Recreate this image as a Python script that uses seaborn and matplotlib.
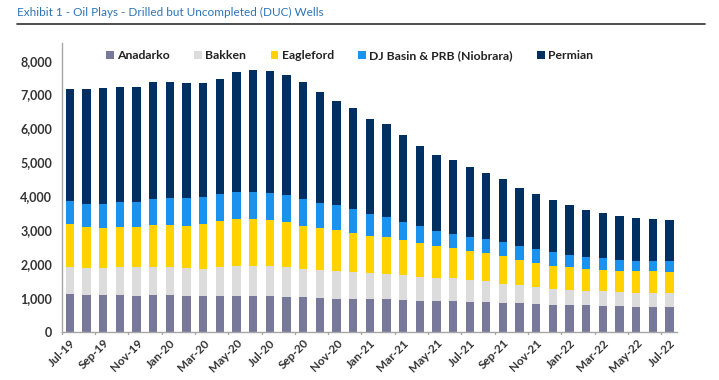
import matplotlib
matplotlib.use("Agg")
import matplotlib.pyplot as plt
from matplotlib.patches import Patch
from matplotlib.lines import Line2D
import seaborn as sns
import numpy as np
import pandas as pd

months = ["Jul-19", "Aug-19", "Sep-19", "Oct-19", "Nov-19", "Dec-19",
          "Jan-20", "Feb-20", "Mar-20", "Apr-20", "May-20", "Jun-20",
          "Jul-20", "Aug-20", "Sep-20", "Oct-20", "Nov-20", "Dec-20",
          "Jan-21", "Feb-21", "Mar-21", "Apr-21", "May-21", "Jun-21",
          "Jul-21", "Aug-21", "Sep-21", "Oct-21", "Nov-21", "Dec-21",
          "Jan-22", "Feb-22", "Mar-22", "Apr-22", "May-22", "Jun-22", "Jul-22"]

anadarko = [1100, 1075, 1075, 1075, 1045, 1075, 1075, 1045, 1045, 1045, 1045, 1045,
            1045, 1015, 1015, 985, 955, 955, 955, 955, 925, 895, 895, 895,
            865, 865, 835, 835, 805, 780, 780, 780, 750, 750, 730, 730, 730]
bakken = [800, 795, 795, 825, 855, 825, 825, 825, 795, 855, 885, 885,
          885, 885, 825, 825, 825, 795, 765, 740, 740, 710, 690, 690,
          660, 630, 570, 540, 525, 490, 460, 430, 460, 430, 420, 420, 420]
eagleford = [1290, 1220, 1190, 1190, 1190, 1250, 1250, 1250, 1340, 1370, 1400, 1400,
             1370, 1340, 1280, 1250, 1230, 1170, 1115, 1110, 1035, 1005, 935, 875,
             855, 825, 830, 750, 710, 680, 660, 650, 620, 600, 630, 630, 600]
dj_prb = [670, 690, 720, 750, 750, 775, 805, 835, 805, 805, 795, 795,
          795, 795, 805, 750, 720, 690, 640, 580, 540, 510, 460, 435,
          425, 405, 405, 395, 395, 405, 365, 345, 345, 345, 315, 315, 345]
permian = [3300, 3375, 3415, 3375, 3375, 3435, 3405, 3375, 3345, 3395, 3525, 3600,
           3605, 3555, 3435, 3270, 3090, 2980, 2805, 2755, 2560, 2360, 2245, 2165,
           2045, 1960, 1880, 1710, 1625, 1535, 1485, 1395, 1320, 1280, 1250, 1220, 1190]

series_names = ["Anadarko", "Bakken", "Eagleford", "DJ Basin & PRB (Niobrara)", "Permian"]
series_values = [anadarko, bakken, eagleford, dj_prb, permian]
colors = ["#77789A", "#DCDCDC", "#FFD200", "#1A92EE", "#002F62"]

sns.set_theme(style="white")
plt.rcParams['font.family'] = ['Lato', 'DejaVu Sans']

fig = plt.figure(figsize=(7.19, 3.80), dpi=100)
ax = fig.add_axes([62 / 719, 1 - 331.7 / 380, (677 - 62) / 719, (331.7 - 43) / 380])

bottom = np.zeros(len(months))
for name, vals, col in zip(series_names, series_values, colors):
    df = pd.DataFrame({"month": months, "value": vals})
    sns.barplot(data=df, x="month", y="value", order=months, color=col,
                bottom=bottom, width=0.5, errorbar=None, ax=ax,
                saturation=1, linewidth=0)
    bottom = bottom + np.array(vals)

ax.set_xlim(-0.48, 36.45)
ax.set_ylim(0, 8520)
ax.set_yticks(range(0, 8001, 1000))
ax.set_yticklabels([f"{v:,}" for v in range(0, 8001, 1000)],
                   fontsize=9, fontweight="bold", color="#333333")
ax.set_xticks(range(0, len(months), 2))
ax.set_xticklabels(months[::2], rotation=45, ha="right", rotation_mode="anchor",
                   fontsize=8.5, fontweight="bold", color="#333333")
ax.set_xlabel("")
ax.set_ylabel("")
for s in ["top", "right"]:
    ax.spines[s].set_visible(False)
for s in ["left", "bottom"]:
    ax.spines[s].set_color("#A6A6A6")
    ax.spines[s].set_linewidth(1)
ax.tick_params(axis="y", length=3, color="#A6A6A6", pad=4)
ax.tick_params(axis="x", length=0, pad=4)
# tick marks between every second category
for xt in np.arange(-0.5, 36.6, 2):
    ax.plot([xt, xt], [0, -70], color="#A6A6A6", lw=1, clip_on=False)

handles = [Patch(facecolor=c, edgecolor="none", label=n) for n, c in zip(series_names, colors)]
leg = ax.legend(handles=handles, loc="center", bbox_to_anchor=(0.468, 0.955), ncol=5,
                frameon=False, handlelength=0.6, handleheight=0.6, handletextpad=0.3,
                columnspacing=2.0, prop={"weight": "bold", "size": 8.8})
for t in leg.get_texts():
    t.set_color("#222222")

fig.text(17 / 719, 1 - 12 / 380, "Exhibit 1 - Oil Plays - Drilled but Uncompleted (DUC) Wells",
         fontsize=8.5, color="#2E74B5", va="center", ha="left")
fig.add_artist(Line2D([17 / 719, 705 / 719], [1 - 23.5 / 380, 1 - 23.5 / 380],
                      color="#404040", lw=1.3, transform=fig.transFigure))

fig.savefig("out.png", dpi=100)
